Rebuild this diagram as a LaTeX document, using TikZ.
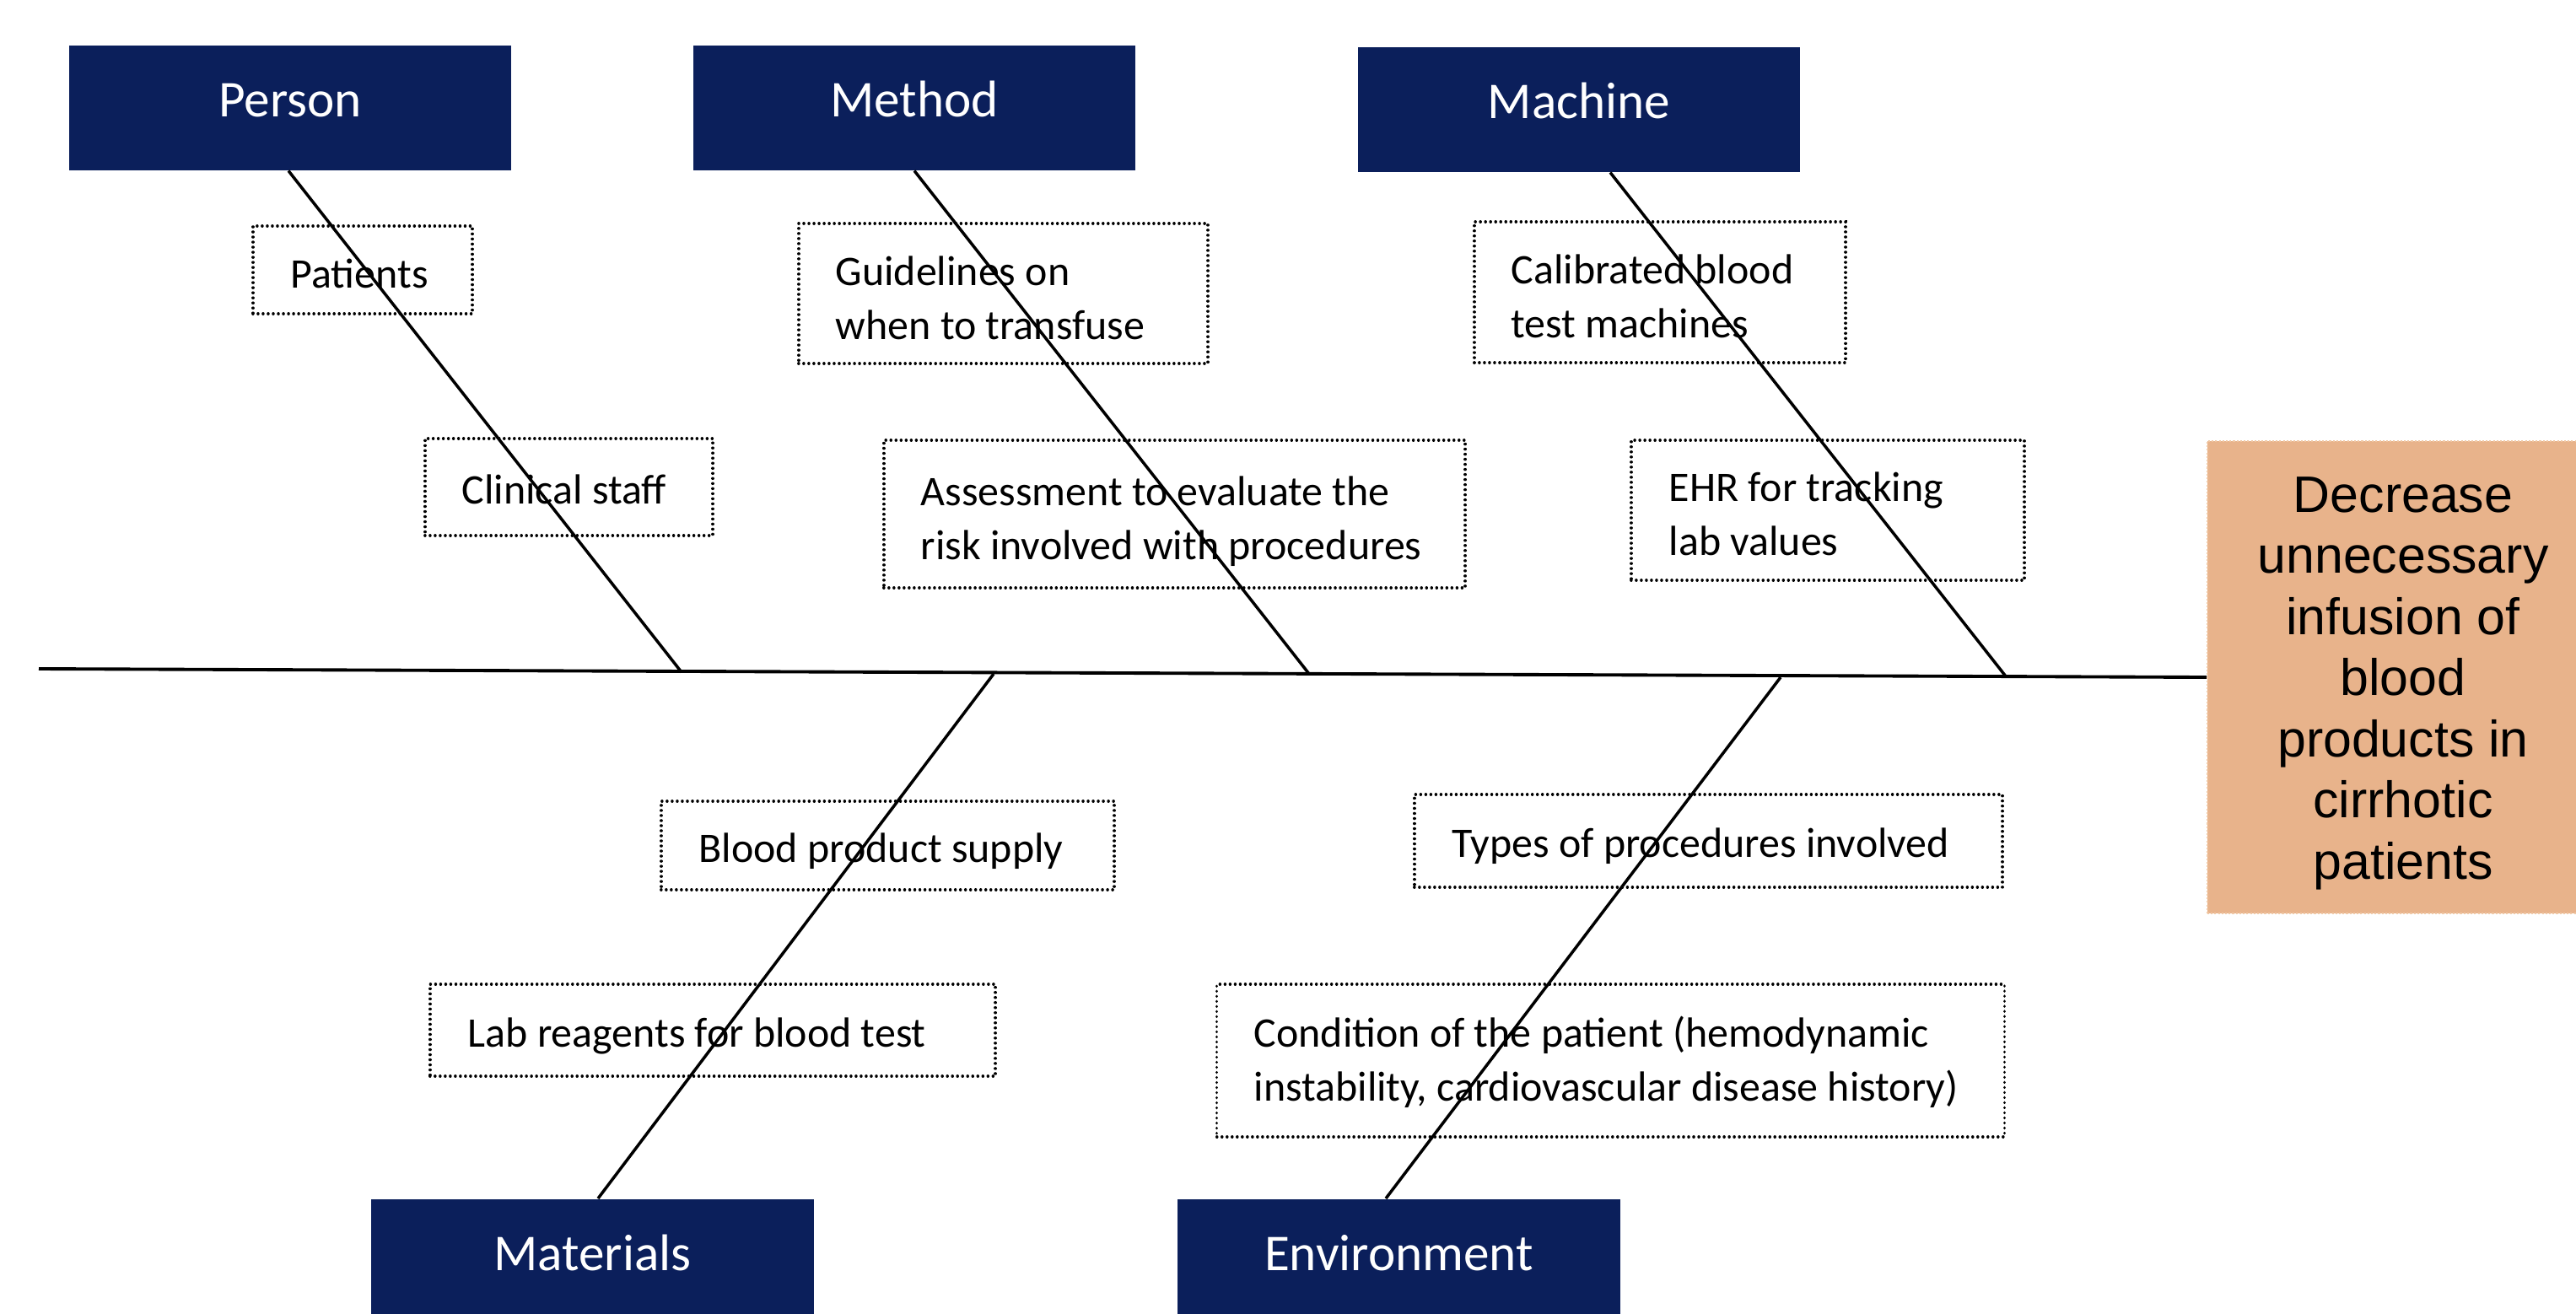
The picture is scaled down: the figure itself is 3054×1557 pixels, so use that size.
\documentclass[tikz,border=0pt]{standalone}
\usepackage{fontspec}
\setmainfont{Carlito}
\newfontfamily\arialf{Liberation Sans}
\usetikzlibrary{calc}
\definecolor{navy}{RGB}{11,31,91}
\definecolor{peach}{RGB}{232,179,139}
\definecolor{peachline}{RGB}{240,200,165}
\tikzset{
  hdr/.style={fill=navy, text=white, font=\fontsize{17.4}{20}\selectfont,
    minimum width=149.09pt, inner sep=0pt, text height=24.19pt, text depth=17.92pt, anchor=north},
  dbox/.style={draw=black, line width=1pt, line cap=round, dash pattern=on 0.01pt off 1.7pt,
    inner sep=0pt},
  dtext/.style={anchor=base west, align=left, inner sep=0pt,
    font=\fontsize{14.2}{18}\selectfont},
  goalbox/.style={fill=peach, draw=peachline, line width=0.5pt, dash pattern=on 0.6pt off 0.6pt,
    minimum width=132.6pt, minimum height=159.3pt, inner sep=0pt},
  goaltext/.style={anchor=base, align=center, inner sep=0pt,
    font=\arialf\fontsize{17.3}{20.6}\selectfont},
  spine/.style={line width=1.1pt},
  bone/.style={line width=1pt}
}
\begin{document}
\begin{tikzpicture}[x=0.01cm, y=-0.01cm]
\clip (0,0) rectangle (3054,1557);
\useasboundingbox (0,0) rectangle (3054,1557);

% category headers
\node[hdr] (person) at (344,53) {Person};
\node[hdr] (method) at (1084,53) {Method};
\node[hdr] (machine) at (1872,55) {Machine};
\node[hdr] (materials) at (702.5,1421) {Materials};
\node[hdr] (environment) at (1658.5,1421) {Environment};

% goal (base anchor = baseline of the last line)
\node[goalbox] (goal) at (2850,803) {};
\node[goaltext] (goaltxt) at (2849,1042) {Decrease\\unnecessary\\infusion of\\blood\\products in\\cirrhotic\\patients};

% cause boxes
\node[dbox, minimum width=73.98pt, minimum height=29.59pt] (patientsbox) at (430,320) {};
\node[dbox, minimum width=97.02pt, minimum height=32.72pt] (staffbox) at (674.5,577.5) {};
\node[dbox, minimum width=138.0pt, minimum height=47.23pt] (guidebox) at (1189.5,348) {};
\node[dbox, minimum width=196.04pt, minimum height=49.79pt] (assessbox) at (1392.5,609.5) {};
\node[dbox, minimum width=125.19pt, minimum height=47.52pt] (calibbox) at (1968,346.5) {};
\node[dbox, minimum width=132.59pt, minimum height=47.23pt] (ehrbox) at (2167,605) {};
\node[dbox, minimum width=152.79pt, minimum height=29.88pt] (supplybox) at (1052.5,1002.5) {};
\node[dbox, minimum width=198.32pt, minimum height=31.30pt] (typesbox) at (2025.5,997) {};
\node[dbox, minimum width=190.64pt, minimum height=31.01pt] (reagentsbox) at (845,1221.5) {};
\node[dbox, minimum width=265.47pt, minimum height=51.50pt] (conditionbox) at (1909.5,1257.5) {};

% cause texts (base anchor = baseline of the last line)
\node[dtext] (patients) at (344,341) {Patients};
\node[dtext] (staff) at (547,597.5) {Clinical staff};
\node[dtext] (guide) at (990,402) {Guidelines on\\when to transfuse};
\node[dtext] (assess) at (1091,663) {Assessment to evaluate the\\risk involved with procedures};
\node[dtext] (calib) at (1791,400) {Calibrated blood\\test machines};
\node[dtext] (ehr) at (1978,658) {EHR for tracking\\lab values};
\node[dtext] (supply) at (828,1022) {Blood product supply};
\node[dtext] (types) at (1721,1016) {Types of procedures involved};
\node[dtext] (reagents) at (554,1241.5) {Lab reagents for blood test};
\node[dtext] (condition) at (1486,1305) {Condition of the patient (hemodynamic\\instability, cardiovascular disease history)};

% spine
\coordinate (tail) at (46,793);
\draw[spine] (tail) -- (goal.west);

% junctions on spine
\coordinate (jperson) at (808,797);
\coordinate (jmethod) at (1552,799);
\coordinate (jmachine) at (2378,802);
\coordinate (jmaterials) at (1178,799);
\coordinate (jenvironment) at (2111,803);

% bones
\draw[bone] ($(person.south)+(-2,0)$) -- (jperson);
\draw[bone] (method.south) -- (jmethod);
\draw[bone] ($(machine.south)+(37,0)$) -- (jmachine);
\draw[bone] ($(materials.north)+(6.5,0)$) -- (jmaterials);
\draw[bone] ($(environment.north)+(-15.5,0)$) -- (jenvironment);
\end{tikzpicture}
\end{document}
